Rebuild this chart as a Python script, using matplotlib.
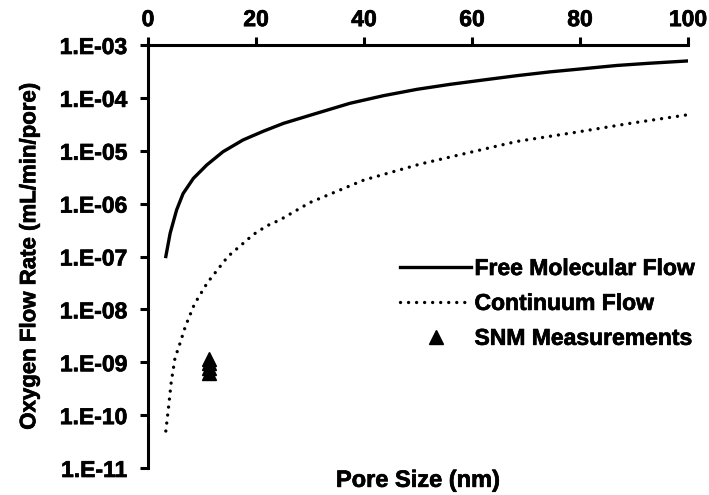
# oxygen flow rate vs pore size, free molecular vs continuum
import math
import matplotlib
matplotlib.use('Agg')
import matplotlib.pyplot as plt
import matplotlib.patheffects as pe
from matplotlib import font_manager as fm
from matplotlib.ticker import FixedLocator, FuncFormatter

# pick a family that really has a bold face
family = 'DejaVu Sans'
for fam in ['Liberation Sans', 'Arial', 'Roboto', 'Open Sans', 'Noto Sans', 'Lato', 'Inter']:
    try:
        path = fm.findfont(fm.FontProperties(family=fam, weight='bold'), fallback_to_default=False)
    except Exception:
        continue
    if 'bold' in path.lower():
        family = fam
        break

plt.rcParams['font.family'] = [family, 'DejaVu Sans']
plt.rcParams['font.weight'] = 'bold'
plt.rcParams['font.size'] = 16

# values
free_x = [3.3, 4.1, 5.3, 6.5, 8.4, 10.9, 13.9, 17.6, 21.4, 25.1, 31.2, 37.4, 43.6,
          49.8, 55.9, 62.1, 68.3, 74.4, 80.6, 86.8, 92.6, 100]
free_y = [1.0e-7, 2.75e-7, 7.6e-7, 1.55e-6, 3.0e-6, 5.4e-6, 9.6e-6, 1.6e-5, 2.35e-5,
          3.3e-5, 5.1e-5, 7.9e-5, 1.1e-4, 1.45e-4, 1.8e-4, 2.18e-4, 2.63e-4, 3.1e-4,
          3.56e-4, 4.1e-4, 4.5e-4, 5.0e-4]

cont_x = [3.3, 3.8, 4.3, 5, 6, 6.9, 8.6, 11, 14.8, 19.5, 22, 24.4, 30, 40, 50.4, 59.2,
          68.3, 78.8, 89.3, 100]
cont_y = [5e-11, 1.4e-10, 4.2e-10, 1.2e-9, 2.4e-9, 4.7e-9, 1.26e-8, 3.2e-8, 1e-7, 2.6e-7,
          3.8e-7, 4.9e-7, 1.05e-6, 2.8e-6, 5.6e-6, 9.1e-6, 1.5e-5, 2.2e-5, 3.3e-5, 4.8e-5]

snm_x = [11.3, 11.3, 11.3, 11.3]
snm_y = [1.17e-9, 9.6e-10, 7.8e-10, 6.3e-10]

x_ticks = [0, 20, 40, 60, 80, 100]
y_ticks = [1e-11, 1e-10, 1e-9, 1e-8, 1e-7, 1e-6, 1e-5, 1e-4, 1e-3]

heavy = [pe.withStroke(linewidth=0.5, foreground='black')]

fig = plt.figure(figsize=(7.09, 4.95), dpi=100)
ax = fig.add_axes([148/709, 1 - 468/495, 540/709, 423/495])

ax.plot(free_x, free_y, color='black', lw=2.4, label='Free Molecular Flow')
ax.plot(cont_x, cont_y, color='black', lw=2.4, linestyle=(0, (0.01, 2.4)),
        dash_capstyle='round', label='Continuum Flow')
ax.plot(snm_x, snm_y, '^', color='black', ms=10.5, linestyle='none', label='SNM Measurements')

ax.set_yscale('log')
ax.set_xlim(0, 100)
ax.set_ylim(1e-11, 1e-3)
ax.xaxis.set_major_locator(FixedLocator(x_ticks))
ax.yaxis.set_major_locator(FixedLocator(y_ticks))
ax.yaxis.set_minor_locator(FixedLocator([]))
ax.yaxis.set_major_formatter(FuncFormatter(lambda v, p: '1.E-%02d' % round(-math.log10(v))))

ax.xaxis.tick_top()
ax.spines['bottom'].set_visible(False)
ax.spines['right'].set_visible(False)
for s in ['top', 'left']:
    ax.spines[s].set_linewidth(2.2)
ax.tick_params(axis='both', which='major', direction='out', length=6, width=2.2, labelsize=16.5)
ax.tick_params(axis='y', pad=9)
ax.tick_params(axis='x', pad=4)
for lbl in ax.get_xticklabels() + ax.get_yticklabels():
    lbl.set_fontweight('bold')
    lbl.set_path_effects(heavy)

ax.set_ylabel('Oxygen Flow Rate (mL/min/pore)', fontsize=16, fontweight='bold', labelpad=14,
              path_effects=heavy)
ax.text(0.5, -0.002, 'Pore Size (nm)', transform=ax.transAxes, ha='center', va='top',
        fontsize=17, fontweight='bold', path_effects=heavy)

leg = ax.legend(loc='upper left', bbox_to_anchor=(400/709, 1 - 257/495),
                bbox_transform=fig.transFigure, frameon=False, borderpad=0, borderaxespad=0,
                handlelength=3.1, handletextpad=0.15, labelspacing=0.52,
                prop={'size': 16.5, 'weight': 'bold'})
for t in leg.get_texts():
    t.set_path_effects(heavy)

fig.savefig('out.png', dpi=100)
